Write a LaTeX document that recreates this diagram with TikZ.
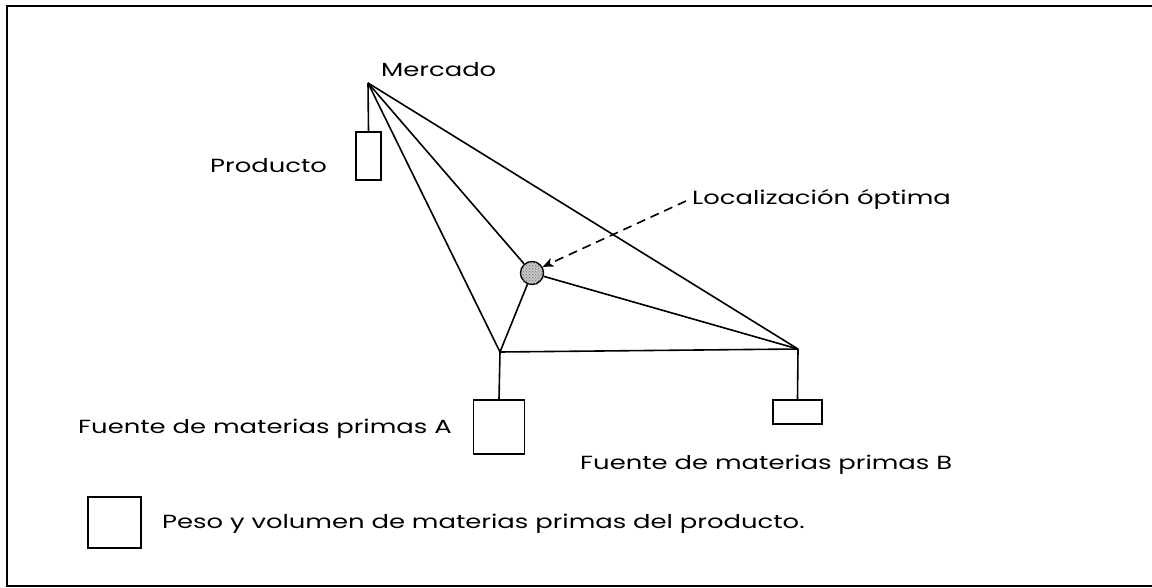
\documentclass[tikz,border=0pt]{standalone}
\usepackage{fontspec}
\setmainfont{Poppins}[FakeStretch=1.36]
\usetikzlibrary{arrows.meta,patterns}
\begin{document}
\begin{tikzpicture}[x=1pt,y=-1pt,
  line/.style={line width=1.6pt},
  lbl/.style={anchor=west,inner sep=0pt,font=\fontsize{19}{22}\selectfont},
]
\useasboundingbox (0,0) rectangle (1152,588);
\draw[line width=1.8pt] (1152,6) -- (7,6) -- (7,586) -- (1152,586);
% points
\coordinate (M) at (368,83);
\coordinate (A) at (500,352);
\coordinate (B) at (798,349);
\node[circle,draw,line width=1.4pt,fill=gray!45,postaction={pattern=crosshatch dots,pattern color=gray!90!black},minimum size=23pt,inner sep=0pt] (O) at (532,273) {};
% weight boxes
\node[draw,line width=1.6pt,minimum width=25pt,minimum height=48pt,inner sep=0pt,anchor=north] (PM) at (368.5,131) {};
\node[draw,line width=1.6pt,minimum width=51pt,minimum height=54pt,inner sep=0pt,anchor=north] (PA) at (499,399) {};
\node[draw,line width=1.6pt,minimum width=49pt,minimum height=24pt,inner sep=0pt,anchor=north] (PB) at (797.5,399) {};
\node[draw,line width=1.6pt,minimum width=53pt,minimum height=51pt,inner sep=0pt] (LG) at (114.5,522.5) {};
% connectors
\draw[line] (M) -- (A);
\draw[line] (M) -- (O);
\draw[line] (M) -- (B);
\draw[line] (A) -- (B);
\draw[line] (O) -- (A);
\draw[line] (O) -- (B);
\draw[line] (M) -- (PM.north);
\draw[line] (A) -- (PA.north);
\draw[line] (B) -- (PB.north);
% labels
\node[lbl] (tM) at (381,70) {Mercado};
\node[lbl] (tP) at (210,166) {Producto};
\node[lbl] (tL) at (692,199) {Localización óptima};
\node[lbl] (tA) at (78,429) {Fuente de materias primas A};
\node[lbl] (tB) at (580,465) {Fuente de materias primas B};
\node[lbl] (tG) at (162,524) {Peso y volumen de materias primas del producto.};
\coordinate (L0) at (686,201);
\draw[line width=1.6pt,dash pattern=on 9pt off 6pt,-{Stealth[length=11pt,width=9pt,inset=3pt]}] (L0) -- (O.30);
\end{tikzpicture}
\end{document}
